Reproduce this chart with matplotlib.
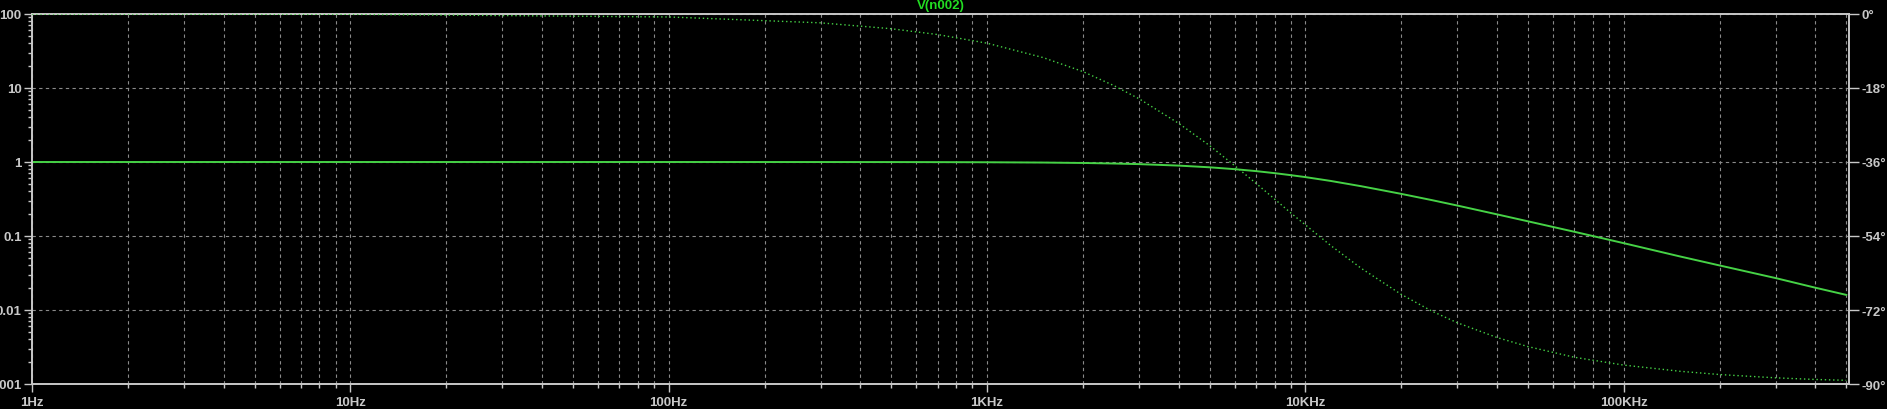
import matplotlib
matplotlib.use("Agg")
import matplotlib.pyplot as plt
from matplotlib.ticker import FixedLocator, FixedFormatter, NullFormatter

# ---- data ----
freq_hz = [1, 10, 100, 300, 500, 700, 1000, 1500, 2000, 2500, 3000, 4000, 5000,
           6000, 7000, 8000, 9000, 10000, 12000, 15000, 20000, 25000, 30000,
           40000, 50000, 70000, 100000, 150000, 200000, 300000, 400000, 500000]
magnitude = [1.0, 1.0, 1.0, 0.999, 0.998, 0.996, 0.992, 0.983, 0.970, 0.954,
             0.936, 0.894, 0.848, 0.800, 0.753, 0.707, 0.664, 0.625, 0.555,
             0.470, 0.371, 0.305, 0.258, 0.196, 0.158, 0.114, 0.080, 0.053,
             0.040, 0.027, 0.020, 0.016]
phase_deg = [-0.01, -0.07, -0.72, -2.15, -3.58, -5.0, -7.1, -10.6, -14.0, -17.4,
             -20.6, -26.6, -32.0, -36.9, -41.2, -45.0, -48.4, -51.3, -56.3,
             -61.9, -68.2, -72.3, -75.1, -78.7, -80.9, -83.5, -85.4, -86.9,
             -87.7, -88.5, -88.9, -89.1]

x_ticks = [1, 10, 100, 1000, 10000, 100000]
x_labels = ["1Hz", "10Hz", "100Hz", "1KHz", "10KHz", "100KHz"]
y_ticks = [0.001, 0.01, 0.1, 1, 10, 100]
y_labels = ["0.001", "0.01", "0.1", "1", "10", "100"]
ph_ticks = [-90, -72, -54, -36, -18, 0]
ph_labels = ["-90°", "-72°", "-54°", "-36°", "-18°", "0°"]
title = "V(n002)"

# ---- style ----
BG = "black"
FG = "#c8c8c8"
GRID = "#8a8a8a"
GREEN = "#46d246"
plt.rcParams["font.family"] = ["Liberation Sans", "DejaVu Sans"]
plt.rcParams["font.weight"] = "bold"

W, H = 1887, 410
fig = plt.figure(figsize=(W / 100, H / 100), dpi=100, facecolor=BG)
L, R, T, B = 32, 1849, 15, 385
ax = fig.add_axes([L / W, (H - B) / H, (R - L) / W, (B - T) / H])
ax.set_facecolor(BG)
ax.set_xscale("log")
ax.set_yscale("log")
ax.set_xlim(1, 5.1e5)
ax.set_ylim(0.001, 100)

minor_x = [m * 10 ** e for e in range(0, 6) for m in range(2, 10) if m * 10 ** e <= 5.1e5]
minor_y = [m * 10.0 ** e for e in range(-3, 2) for m in range(2, 10)]

ax.xaxis.set_major_locator(FixedLocator(x_ticks))
ax.xaxis.set_major_formatter(FixedFormatter(x_labels))
ax.xaxis.set_minor_locator(FixedLocator(minor_x))
ax.xaxis.set_minor_formatter(NullFormatter())
ax.yaxis.set_major_locator(FixedLocator(y_ticks))
ax.yaxis.set_major_formatter(FixedFormatter(y_labels))
ax.yaxis.set_minor_locator(FixedLocator(minor_y))
ax.yaxis.set_minor_formatter(NullFormatter())

ax.tick_params(axis="both", which="both", colors=FG, labelcolor=FG, labelsize=9.5)
ax.tick_params(axis="x", which="major", length=6, width=1, pad=3, direction="out")
ax.tick_params(axis="x", which="minor", length=3, width=1, direction="out")
ax.tick_params(axis="y", which="major", length=6, width=1, pad=1.5, direction="out")
ax.tick_params(axis="y", which="minor", length=3, width=1, direction="out")
for lab in ax.get_xticklabels() + ax.get_yticklabels():
    lab.set_fontweight("bold")

for s in ax.spines.values():
    s.set_color(FG)
    s.set_linewidth(1.2)

gl = dict(color=GRID, linestyle=(0, (3, 3)), linewidth=0.8)
ax.grid(True, which="major", axis="both", **gl)
ax.grid(True, which="minor", axis="x", **gl)
ax.set_axisbelow(True)

ax.plot(freq_hz, magnitude, color=GREEN, linewidth=1.4, zorder=3)

ax2 = ax.twinx()
ax2.set_ylim(-90, 0)
ax2.yaxis.set_major_locator(FixedLocator(ph_ticks))
ax2.yaxis.set_major_formatter(FixedFormatter(ph_labels))
ax2.tick_params(axis="y", colors=FG, labelcolor=FG, labelsize=9.5, length=7,
                width=1, pad=2, direction="out")
for lab in ax2.get_yticklabels():
    lab.set_fontweight("bold")
for s in ax2.spines.values():
    s.set_color(FG)
    s.set_linewidth(1.2)
ax2.plot(freq_hz, phase_deg, color=GREEN, linewidth=1.0,
         linestyle=(0, (1, 2)), zorder=3)

fig.text((L + R) / 2 / W, 1 - 6 / H, title, color="#22dd22", fontsize=9.5,
         fontweight="bold", ha="center", va="center")

fig.savefig("out.png", dpi=100, facecolor=BG)
